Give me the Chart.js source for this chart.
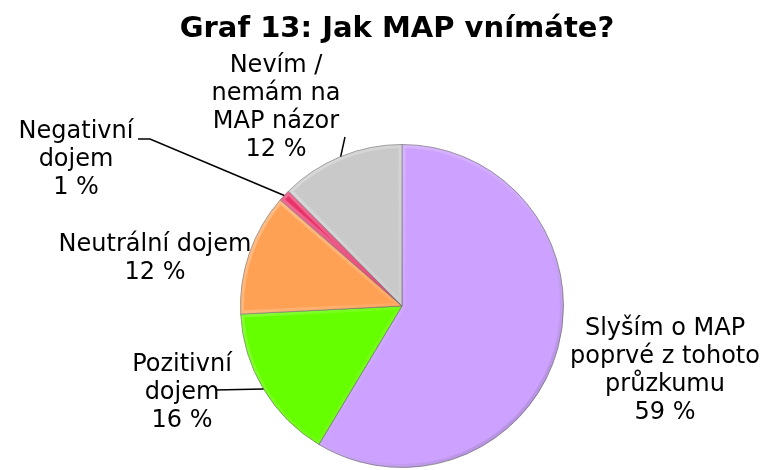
<!DOCTYPE html>
<html>
<head>
<meta charset="utf-8">
<script src="https://cdn.jsdelivr.net/npm/chart.js@4/dist/chart.umd.min.js"></script>
<style>
  html, body { margin: 0; padding: 0; background: #fff; }
  #wrap { width: 763px; height: 470px; }
</style>
</head>
<body>
<div id="wrap"><canvas id="pieChart"></canvas></div>
<script>
const chartTitle = "Graf 13: Jak MAP vnímáte?";
const categories = ["Slyším o MAP poprvé z tohoto průzkumu", "Pozitivní dojem", "Neutrální dojem", "Negativní dojem", "Nevím / nemám na MAP názor"];
const shares = [58.6, 15.6, 12.2, 1.2, 12.4];
const labelLines = [["Slyším o MAP", "poprvé z tohoto", "průzkumu"], ["Pozitivní", "dojem"], ["Neutrální dojem"], ["Negativní", "dojem"], ["Nevím /", "nemám na", "MAP názor"]];
const sliceColors = ["#CCA1FF", "#66FF00", "#FFA155", "#E8336B", "#C9C9C9"];

// where each label block sits, relative to the pie centre
const labelOffsets = [[263, 65], [-220, 87], [-247, -47], [-326, -146], [-126, -198]];
// leader lines: points relative to pie centre, ending on the slice edge
const leaders = [null, [[-187, 84]], null, [[-264, -167], [-252, -167]], [[-57, -169]]];

const FONT = "'DejaVu Sans', Verdana, sans-serif";
const LINE_H = 28;

// bevel look + labels
const pieDecor = {
  id: "pieDecor",
  afterDatasetsDraw(chart) {
    const ctx = chart.ctx;
    const arcs = chart.getDatasetMeta(0).data;
    arcs.forEach((arc) => {
      const { x, y, startAngle, endAngle, outerRadius } = arc.getProps(["x", "y", "startAngle", "endAngle", "outerRadius"], true);
      ctx.save();
      ctx.beginPath();
      ctx.moveTo(x, y);
      ctx.arc(x, y, outerRadius, startAngle, endAngle);
      ctx.closePath();
      ctx.clip();
      const g = ctx.createLinearGradient(x - outerRadius, y - outerRadius, x + outerRadius, y + outerRadius);
      g.addColorStop(0, "rgba(255,255,255,0.35)");
      g.addColorStop(0.5, "rgba(255,255,255,0.08)");
      g.addColorStop(1, "rgba(0,0,0,0.2)");
      ctx.strokeStyle = g;
      ctx.lineWidth = 7;
      ctx.lineJoin = "round";
      ctx.stroke();
      ctx.restore();
    });

    const c = arcs[0];
    const cx = c.x, cy = c.y;

    // leader lines
    ctx.save();
    ctx.strokeStyle = "#000";
    ctx.lineWidth = 1.5;
    arcs.forEach((arc, i) => {
      if (!leaders[i]) return;
      const mid = (arc.startAngle + arc.endAngle) / 2;
      ctx.beginPath();
      leaders[i].forEach((p, k) => {
        if (k === 0) ctx.moveTo(cx + p[0], cy + p[1]);
        else ctx.lineTo(cx + p[0], cy + p[1]);
      });
      ctx.lineTo(cx + Math.cos(mid) * arc.outerRadius, cy + Math.sin(mid) * arc.outerRadius);
      ctx.stroke();
    });
    ctx.restore();

    // labels
    ctx.save();
    ctx.fillStyle = "#000";
    ctx.font = "24px " + FONT;
    ctx.textAlign = "center";
    ctx.textBaseline = "middle";
    shares.forEach((v, i) => {
      const lines = labelLines[i].concat([Math.round(v) + " %"]);
      const bx = cx + labelOffsets[i][0];
      const by = cy + labelOffsets[i][1];
      lines.forEach((t, k) => {
        ctx.fillText(t, bx, by + (k - (lines.length - 1) / 2) * LINE_H);
      });
    });

    // title
    ctx.font = "bold 29px " + FONT;
    ctx.fillText(chartTitle, 397, 29);
    ctx.restore();
  },
};

new Chart(document.getElementById("pieChart"), {
  type: "pie",
  data: {
    labels: categories,
    datasets: [
      {
        data: shares,
        backgroundColor: sliceColors,
        borderColor: "rgba(90,90,90,0.6)",
        borderWidth: 1,
      },
    ],
  },
  options: {
    responsive: true,
    maintainAspectRatio: false,
    animation: false,
    layout: { padding: { top: 144, bottom: 2, left: 240, right: 199 } },
    plugins: {
      legend: { display: false },
      title: { display: false },
      tooltip: { enabled: false },
    },
  },
  plugins: [pieDecor],
});
</script>
</body>
</html>
